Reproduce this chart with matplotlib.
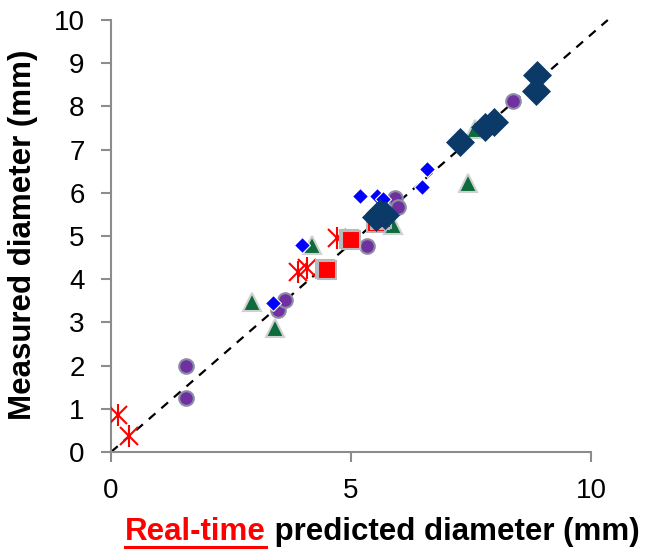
import matplotlib
matplotlib.use("Agg")
import matplotlib.pyplot as plt
from matplotlib.lines import Line2D

plt.rcParams['font.family'] = ['Liberation Sans', 'DejaVu Sans']

# red stars
star_x = [0.15, 0.38, 3.90, 4.08, 4.71]
star_y = [0.86, 0.37, 4.17, 4.26, 4.95]
# red squares
sq_x = [4.46, 4.50, 4.96, 5.00, 5.52, 5.60, 5.65]
sq_y = [4.24, 4.21, 4.93, 4.90, 5.30, 5.36, 5.40]
# purple circles
circ_x = [1.56, 1.56, 3.48, 3.63, 5.33, 5.92, 5.98, 8.38]
circ_y = [1.99, 1.25, 3.29, 3.52, 4.77, 5.88, 5.67, 8.13]
# small blue diamonds
bd_x = [3.38, 3.98, 5.19, 5.54, 5.67, 6.48, 6.58]
bd_y = [3.45, 4.79, 5.93, 5.93, 5.86, 6.13, 6.55]
# large navy diamonds
nd_x = [5.52, 5.60, 5.71, 7.27, 7.79, 7.98, 8.85, 8.88]
nd_y = [5.44, 5.53, 5.49, 7.18, 7.52, 7.64, 8.36, 8.73]
# green triangles
tri_x = [2.94, 3.42, 4.19, 5.88, 7.44, 7.58]
tri_y = [3.47, 2.87, 4.79, 5.25, 6.23, 7.48]

# reference line
ref_x = [0, 10.35]
ref_y = [0, 10]

fig = plt.figure(figsize=(6.5, 5.53), dpi=100)
ax = fig.add_axes([0.1708, 0.1826, 0.7384, 0.7812])

ax.plot(ref_x, ref_y, color='black', linestyle=(0, (4, 3.5)), linewidth=1.6,
        clip_on=False, zorder=1)

ax.plot(tri_x, tri_y, linestyle='none', marker='^', markersize=13,
        markerfacecolor='#0E6B3B', markeredgecolor='#D0D0D0', markeredgewidth=1.5, zorder=2)
ax.plot(circ_x, circ_y, linestyle='none', marker='o', markersize=10.5,
        markerfacecolor='#7030A0', markeredgecolor='#8C8CA8', markeredgewidth=1.5, zorder=3)
ax.plot(bd_x, bd_y, linestyle='none', marker='D', markersize=8.5,
        markerfacecolor='#0000FF', markeredgecolor='white', markeredgewidth=0.8, zorder=4)
# star marker = x plus vertical bar
ax.plot(star_x, star_y, linestyle='none', marker='x', markersize=13,
        color='#FF0000', markeredgewidth=1.5, zorder=5)
ax.plot(star_x, star_y, linestyle='none', marker='|', markersize=16,
        color='#FF0000', markeredgewidth=1.5, zorder=5)
ax.plot(sq_x, sq_y, linestyle='none', marker='s', markersize=13,
        markerfacecolor='#FF0000', markeredgecolor='#B8B8C0', markeredgewidth=1.5, zorder=6)
ax.plot(nd_x, nd_y, linestyle='none', marker='D', markersize=14,
        markerfacecolor='#0B3A68', markeredgecolor='#0B3A68', markeredgewidth=0.5, zorder=7)

ax.set_xlim(0, 10)
ax.set_ylim(0, 10)
ax.set_xticks([0, 5, 10])
ax.set_yticks(range(0, 11))
for s in ['top', 'right']:
    ax.spines[s].set_visible(False)
for s in ['left', 'bottom']:
    ax.spines[s].set_color('#8C8C8C')
    ax.spines[s].set_linewidth(1.5)
ax.tick_params(axis='both', direction='out', length=7, width=1.5, color='#8C8C8C',
               labelsize=20)
ax.tick_params(axis='y', pad=12)
ax.tick_params(axis='x', pad=12)

fig.text(0.036, 0.575, 'Measured diameter (mm)', rotation=90, fontsize=22.5,
         fontweight='bold', ha='center', va='center')

# x label in two parts, first part red and underlined
fig.canvas.draw()
r = fig.canvas.get_renderer()
t1 = fig.text(0, 0.024, 'Real-time', color='#FF0000', fontsize=22.5, fontweight='bold',
              va='baseline')
t2 = fig.text(0, 0.024, ' predicted diameter (mm)', color='black', fontsize=22.5,
              fontweight='bold', va='baseline')
w1 = t1.get_window_extent(r).width / fig.bbox.width
w2 = t2.get_window_extent(r).width / fig.bbox.width
x0 = 0.588 - (w1 + w2) / 2
t1.set_x(x0)
t2.set_x(x0 + w1)
fig.add_artist(Line2D([x0, x0 + w1], [0.011, 0.011], color='#FF0000', linewidth=2.2,
                      transform=fig.transFigure))

fig.savefig('out.png', dpi=100)
